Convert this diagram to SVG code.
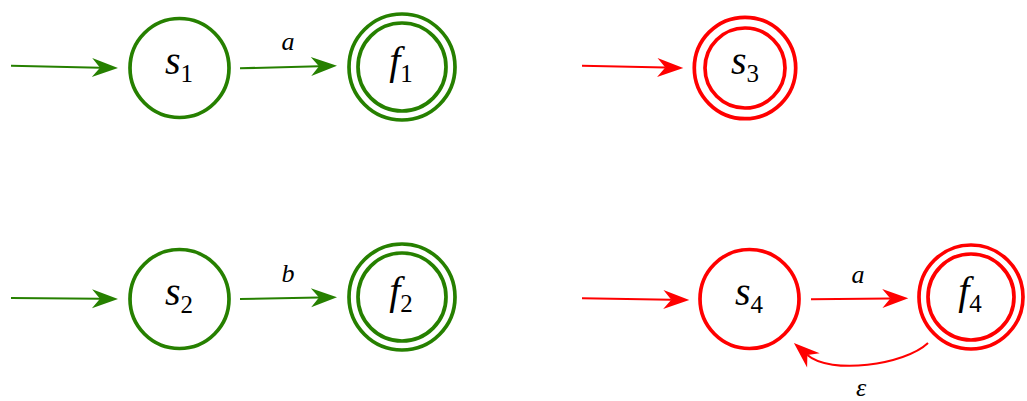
<svg xmlns="http://www.w3.org/2000/svg" width="1027" height="401" viewBox="0 0 1027 401" font-family="serif">
<style>
  .g { stroke: #268000; fill: none; }
  .r { stroke: #ff0000; fill: none; }
  .node { stroke-width: 3.7; fill: #ffffff; }
  .edge { stroke-width: 2; fill: none; }
</style>
<defs>
  <marker id="ag" markerUnits="userSpaceOnUse" markerWidth="30" markerHeight="24" viewBox="-27 -12 30 24" refX="-18" refY="0" orient="auto">
    <path d="M0,0 L-26,-9.5 L-18,0 L-26,9.5 Z" fill="#268000"/>
  </marker>
  <marker id="ar" markerUnits="userSpaceOnUse" markerWidth="30" markerHeight="24" viewBox="-27 -12 30 24" refX="-18" refY="0" orient="auto">
    <path d="M0,0 L-26,-9.5 L-18,0 L-26,9.5 Z" fill="#ff0000"/>
  </marker>
</defs>

<g id="connectors">
  <line class="g edge" x1="11" y1="65.7" x2="100" y2="67.7" marker-end="url(#ag)"/>
  <line class="g edge" x1="240" y1="68.3" x2="319" y2="66.2" marker-end="url(#ag)"/>
  <text font-family="Times New Roman, Liberation Serif, serif" font-style="italic" font-size="26" x="288" y="50" text-anchor="middle">a</text>

  <line class="g edge" x1="11" y1="298" x2="100" y2="298.8" marker-end="url(#ag)"/>
  <line class="g edge" x1="240" y1="299" x2="319" y2="297.5" marker-end="url(#ag)"/>
  <text font-family="Times New Roman, Liberation Serif, serif" font-style="italic" font-size="26" x="288" y="282" text-anchor="middle">b</text>

  <line class="r edge" x1="582" y1="65.7" x2="665.3" y2="67.6" marker-end="url(#ar)"/>

  <line class="r edge" x1="582" y1="298.3" x2="671.3" y2="299.7" marker-end="url(#ar)"/>
  <line class="r edge" x1="811" y1="299.3" x2="890.3" y2="298.4" marker-end="url(#ar)"/>
  <text font-family="Times New Roman, Liberation Serif, serif" font-style="italic" font-size="26" x="858" y="283" text-anchor="middle">a</text>

  <path class="r edge" d="M928,343 C905,365 830,375 807.4,355" marker-end="url(#ar)"/>
  <text font-family="Times New Roman, Liberation Serif, serif" font-style="italic" font-size="26" x="861" y="396" text-anchor="middle">ε</text>
</g>

<g id="s1">
  <circle class="g node" cx="179.5" cy="68" r="49.5"/>
  <text font-family="Times New Roman, Liberation Serif, serif" font-size="40" x="179" y="74" text-anchor="middle"><tspan font-style="italic">s</tspan><tspan font-size="25" dy="8">1</tspan></text>
</g>
<g id="f1">
  <circle class="g node" cx="402" cy="67" r="53"/>
  <circle class="g node" cx="402" cy="67" r="44"/>
  <text font-family="Times New Roman, Liberation Serif, serif" font-size="40" x="401" y="74" text-anchor="middle"><tspan font-style="italic">f</tspan><tspan font-size="25" dy="8">1</tspan></text>
</g>
<g id="s3">
  <circle class="r node" cx="745" cy="68" r="50.7"/>
  <circle class="r node" cx="745" cy="68" r="40"/>
  <text font-family="Times New Roman, Liberation Serif, serif" font-size="40" x="745" y="74" text-anchor="middle"><tspan font-style="italic">s</tspan><tspan font-size="25" dy="8">3</tspan></text>
</g>
<g id="s2">
  <circle class="g node" cx="179.5" cy="299" r="49.5"/>
  <text font-family="Times New Roman, Liberation Serif, serif" font-size="40" x="179" y="305" text-anchor="middle"><tspan font-style="italic">s</tspan><tspan font-size="25" dy="8">2</tspan></text>
</g>
<g id="f2">
  <circle class="g node" cx="402" cy="297" r="53"/>
  <circle class="g node" cx="402" cy="297" r="44"/>
  <text font-family="Times New Roman, Liberation Serif, serif" font-size="40" x="401" y="304" text-anchor="middle"><tspan font-style="italic">f</tspan><tspan font-size="25" dy="8">2</tspan></text>
</g>
<g id="s4">
  <circle class="r node" cx="749.5" cy="299" r="49.5"/>
  <text font-family="Times New Roman, Liberation Serif, serif" font-size="40" x="749" y="305" text-anchor="middle"><tspan font-style="italic">s</tspan><tspan font-size="25" dy="8">4</tspan></text>
</g>
<g id="f4">
  <circle class="r node" cx="971" cy="297" r="52"/>
  <circle class="r node" cx="971" cy="297" r="43"/>
  <text font-family="Times New Roman, Liberation Serif, serif" font-size="40" x="970" y="304" text-anchor="middle"><tspan font-style="italic">f</tspan><tspan font-size="25" dy="8">4</tspan></text>
</g>
</svg>
